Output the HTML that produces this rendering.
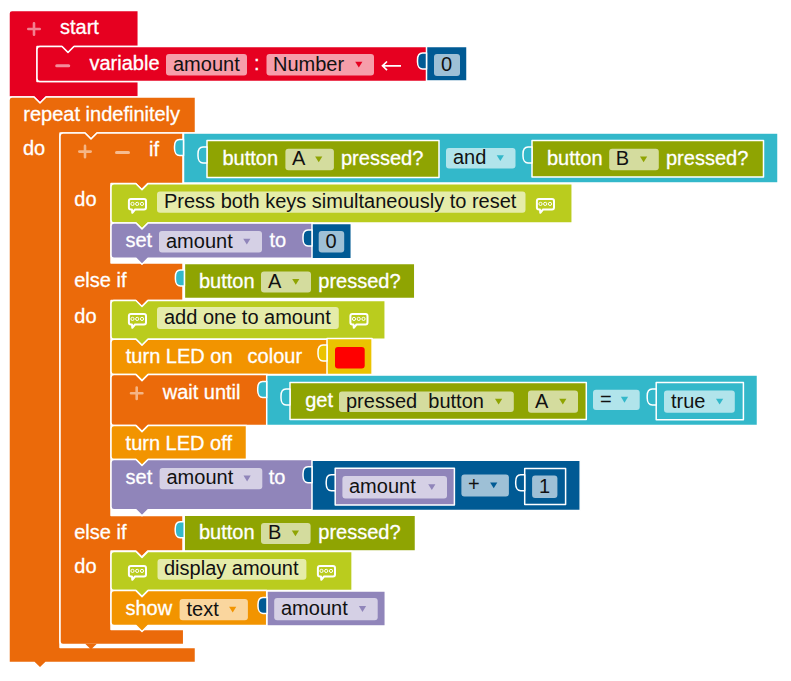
<!DOCTYPE html>
<html><head><meta charset="utf-8"><style>
html,body{margin:0;padding:0;background:#fff;width:791px;height:681px;overflow:hidden}
svg{display:block}
text{font-family:"Liberation Sans", sans-serif}
</style></head><body>
<svg width="791" height="681" viewBox="0 0 791 681">
<path d="M9,13.5 Q9,10.5 12,10.5 L138.3,10.5 L138.3,46.5 L74,46.5 L68,52.5 L62,46.5 L37,46.5 L37,81.5 L138.3,81.5 L138.3,97 L46,97 L40,103 L34,97 L9,97 Z" fill="#E60020" stroke="#fff" stroke-width="1.5" stroke-linejoin="round"/>
<path d="M28.3,29 L39.7,29 M34,23.3 L34,34.7" stroke="#fff" stroke-opacity="0.5" stroke-width="2.6" stroke-linecap="round"/>
<text x="60" y="34.2" fill="#fff" stroke="#fff" stroke-width="0.3" font-size="20" text-anchor="start" xml:space="preserve">start</text>
<path d="M37,49.5 Q37,46.5 40,46.5 L62,46.5 L68,52.5 L74,46.5 L427.5,46.5 L427.5,81.5 L427.5,81.5 L40,81.5 Q37,81.5 37,78.5 Z" fill="#E60020" stroke="#fff" stroke-width="1.5" stroke-linejoin="round"/>
<path d="M56.7,65.8 L68.7,65.8" stroke="#fff" stroke-opacity="0.55" stroke-width="3" stroke-linecap="round"/>
<text x="89.5" y="69.8" fill="#fff" stroke="#fff" stroke-width="0.3" font-size="20" text-anchor="start" xml:space="preserve">variable</text>
<rect x="166" y="54" width="81" height="21.5" rx="3" ry="3" fill="#fff" fill-opacity="0.62"/>
<text x="173" y="70.6" fill="#111" font-size="20" text-anchor="start" xml:space="preserve">amount</text>
<text x="254" y="69.8" fill="#fff" stroke="#fff" stroke-width="0.3" font-size="20" text-anchor="start" xml:space="preserve">:</text>
<rect x="266.5" y="54" width="107.5" height="21.5" rx="3" ry="3" fill="#fff" fill-opacity="0.62"/>
<text x="273" y="70.6" fill="#111" font-size="20" text-anchor="start" xml:space="preserve">Number</text>
<path d="M355.2,61.75 L362.40000000000003,61.75 L358.8,67.55 Z" fill="#E60020"/>
<path d="M382.5,65.8 L401,65.8 M387,61.5 L382.5,65.8 L387,70.1" stroke="#fff" stroke-width="1.7" fill="none"/>
<rect x="426.5" y="46.6" width="40.5" height="34.3" fill="#005A94" stroke="#fff" stroke-width="1.5" stroke-linejoin="round"/>
<path d="M426.5,53 L422.5,53 C419.0,53 417.5,56 417.5,60 L417.5,62 C417.5,66 419.5,69 422.5,69 L426.5,69 Z" fill="#005A94" stroke="#fff" stroke-width="1.5" stroke-linejoin="round"/>
<rect x="434" y="54" width="26" height="22" rx="3" ry="3" fill="#fff" fill-opacity="0.62"/>
<text x="441" y="70.85" fill="#111" font-size="20" text-anchor="start" xml:space="preserve">0</text>
<path d="M9,100 Q9,97 12,97 L34,97 L40,103 L46,97 L195.5,97 L195.5,133 L97,133 L91,139 L85,133 L60,133 L60,647.4 L195.5,647.4 L195.5,662.4 L46,662.4 L40,668 L34,662.4 L9,662.4 Z" fill="#EB6A0A" stroke="#fff" stroke-width="1.5" stroke-linejoin="round"/>
<text x="23.3" y="121.1" fill="#fff" stroke="#fff" stroke-width="0.3" font-size="20" text-anchor="start" xml:space="preserve">repeat indefinitely</text>
<text x="23" y="155.1" fill="#fff" stroke="#fff" stroke-width="0.3" font-size="20" text-anchor="start" xml:space="preserve">do</text>
<path d="M60,136 Q60,133 63,133 L85,133 L91,139 L97,133 L183,133 L183,183.5 L147.7,183.5 L141.7,189.5 L135.7,183.5 L111,183.5 L111,263 L183,263 L183,300.5 L147.7,300.5 L141.7,306.5 L135.7,300.5 L111,300.5 L111,515.5 L183,515.5 L183,551 L147.7,551 L141.7,557 L135.7,551 L111,551 L111,629.6 L183.7,629.6 L183.7,644.6 L63,644.6 Q60,644.6 60,641.6 Z" fill="#EB6A0A" stroke="#fff" stroke-width="1.5" stroke-linejoin="round"/>
<path d="M85.2,643.8 L96.8,643.8 L91,649.6 Z" fill="#EB6A0A"/>
<path d="M79.3,151.6 L90.7,151.6 M85,145.9 L85,157.29999999999998" stroke="#fff" stroke-opacity="0.5" stroke-width="2.6" stroke-linecap="round"/>
<path d="M116.5,152.5 L128.5,152.5" stroke="#fff" stroke-opacity="0.55" stroke-width="3" stroke-linecap="round"/>
<text x="149" y="155.7" fill="#fff" stroke="#fff" stroke-width="0.3" font-size="20" text-anchor="start" xml:space="preserve">if</text>
<text x="74.3" y="206.3" fill="#fff" stroke="#fff" stroke-width="0.3" font-size="20" text-anchor="start" xml:space="preserve">do</text>
<text x="74.2" y="286.9" fill="#fff" stroke="#fff" stroke-width="0.3" font-size="20" text-anchor="start" xml:space="preserve">else if</text>
<text x="74.3" y="322.5" fill="#fff" stroke="#fff" stroke-width="0.3" font-size="20" text-anchor="start" xml:space="preserve">do</text>
<text x="74.2" y="538.5" fill="#fff" stroke="#fff" stroke-width="0.3" font-size="20" text-anchor="start" xml:space="preserve">else if</text>
<text x="74.3" y="572.5" fill="#fff" stroke="#fff" stroke-width="0.3" font-size="20" text-anchor="start" xml:space="preserve">do</text>
<rect x="183.5" y="133.1" width="594.5" height="49.8" fill="#33B8CA" stroke="#fff" stroke-width="1.5" stroke-linejoin="round"/>
<path d="M183.5,139.5 L179.5,139.5 C176.0,139.5 174.5,142.5 174.5,146.5 L174.5,148.5 C174.5,152.5 176.5,155.5 179.5,155.5 L183.5,155.5 Z" fill="#33B8CA" stroke="#fff" stroke-width="1.5" stroke-linejoin="round"/>
<rect x="207" y="140.6" width="232.0" height="36.8" fill="#8FA402" stroke="#fff" stroke-width="1.5" stroke-linejoin="round"/>
<path d="M207,147 L203,147 C199.5,147 198,150 198,154 L198,156 C198,160 200,163 203,163 L207,163 Z" fill="#33B8CA" stroke="#fff" stroke-width="1.5" stroke-linejoin="round"/>
<text x="222.5" y="164.5" fill="#fff" stroke="#fff" stroke-width="0.3" font-size="20" text-anchor="start" xml:space="preserve">button</text>
<rect x="285.4" y="148.7" width="48.5" height="21.5" rx="3" ry="3" fill="#fff" fill-opacity="0.62"/>
<text x="292" y="165.29999999999998" fill="#111" font-size="20" text-anchor="start" xml:space="preserve">A</text>
<path d="M315.09999999999997,156.45 L322.3,156.45 L318.7,162.25 Z" fill="#8FA402"/>
<text x="341" y="164.5" fill="#fff" stroke="#fff" stroke-width="0.3" font-size="20" text-anchor="start" xml:space="preserve">pressed?</text>
<rect x="446" y="148" width="69.5" height="20.5" rx="3" ry="3" fill="#fff" fill-opacity="0.62"/>
<text x="453" y="164.1" fill="#111" font-size="20" text-anchor="start" xml:space="preserve">and</text>
<path d="M496.7,155.25 L503.90000000000003,155.25 L500.3,161.05 Z" fill="#33B8CA"/>
<rect x="532" y="140.6" width="231.5" height="36.3" fill="#8FA402" stroke="#fff" stroke-width="1.5" stroke-linejoin="round"/>
<path d="M532,147 L528,147 C524.5,147 523,150 523,154 L523,156 C523,160 525,163 528,163 L532,163 Z" fill="#33B8CA" stroke="#fff" stroke-width="1.5" stroke-linejoin="round"/>
<text x="547" y="164.5" fill="#fff" stroke="#fff" stroke-width="0.3" font-size="20" text-anchor="start" xml:space="preserve">button</text>
<rect x="609.2" y="148.7" width="49.59999999999991" height="21.5" rx="3" ry="3" fill="#fff" fill-opacity="0.62"/>
<text x="615.8" y="165.29999999999998" fill="#111" font-size="20" text-anchor="start" xml:space="preserve">B</text>
<path d="M639.9999999999999,156.45 L647.1999999999999,156.45 L643.5999999999999,162.25 Z" fill="#8FA402"/>
<text x="666" y="164.5" fill="#fff" stroke="#fff" stroke-width="0.3" font-size="20" text-anchor="start" xml:space="preserve">pressed?</text>
<path d="M111,186.7 Q111,183.7 114,183.7 L136,183.7 L142,189.7 L148,183.7 L572.2,183.7 L572.2,223.0 L148,223.0 L142,229.0 L136,223.0 L114,223.0 Q111,223.0 111,220.0 Z" fill="#BACC1E" stroke="#fff" stroke-width="1.5" stroke-linejoin="round"/>
<path d="M130.9,198.9 L144,198.9 Q146,198.9 146,200.9 L146,207.5 Q146,209.5 144,209.5 L135,209.5 L132.3,212.8 L132,209.5 L130.9,209.5 Q128.9,209.5 128.9,207.5 L128.9,200.9 Q128.9,198.9 130.9,198.9 Z" fill="none" stroke="#fff" stroke-width="2" stroke-linejoin="round"/>
<circle cx="132.5" cy="203.9" r="1.6" fill="none" stroke="#fff" stroke-width="1"/>
<circle cx="137.2" cy="203.9" r="1.6" fill="none" stroke="#fff" stroke-width="1"/>
<circle cx="142" cy="203.9" r="1.6" fill="none" stroke="#fff" stroke-width="1"/>
<rect x="157" y="191.5" width="368.5" height="21.19999999999999" rx="3" ry="3" fill="#fff" fill-opacity="0.62"/>
<text x="164" y="207.95" fill="#111" font-size="20" text-anchor="start" xml:space="preserve">Press both keys simultaneously to reset</text>
<path d="M538.9,198.9 L552,198.9 Q554,198.9 554,200.9 L554,207.5 Q554,209.5 552,209.5 L543,209.5 L540.3,212.8 L540,209.5 L538.9,209.5 Q536.9,209.5 536.9,207.5 L536.9,200.9 Q536.9,198.9 538.9,198.9 Z" fill="none" stroke="#fff" stroke-width="2" stroke-linejoin="round"/>
<circle cx="540.5" cy="203.9" r="1.6" fill="none" stroke="#fff" stroke-width="1"/>
<circle cx="545.2" cy="203.9" r="1.6" fill="none" stroke="#fff" stroke-width="1"/>
<circle cx="550" cy="203.9" r="1.6" fill="none" stroke="#fff" stroke-width="1"/>
<path d="M111,226 Q111,223 114,223 L136,223 L142,229 L148,223 L313.0,223 L313.0,258.3 L148,258.3 L142,264.3 L136,258.3 L114,258.3 Q111,258.3 111,255.3 Z" fill="#9085BA" stroke="#fff" stroke-width="1.5" stroke-linejoin="round"/>
<text x="125.5" y="247.0" fill="#fff" stroke="#fff" stroke-width="0.3" font-size="20" text-anchor="start" xml:space="preserve">set</text>
<rect x="159" y="231" width="103" height="21.5" rx="3" ry="3" fill="#fff" fill-opacity="0.62"/>
<text x="166" y="247.6" fill="#111" font-size="20" text-anchor="start" xml:space="preserve">amount</text>
<path d="M243.20000000000002,238.75 L250.4,238.75 L246.8,244.55 Z" fill="#9085BA"/>
<text x="269.5" y="247.0" fill="#fff" stroke="#fff" stroke-width="0.3" font-size="20" text-anchor="start" xml:space="preserve">to</text>
<rect x="312" y="223.6" width="39.30000000000001" height="35.10000000000001" fill="#005A94" stroke="#fff" stroke-width="1.5" stroke-linejoin="round"/>
<path d="M312,230 L308,230 C304.5,230 303,233 303,237 L303,239 C303,243 305,246 308,246 L312,246 Z" fill="#005A94" stroke="#fff" stroke-width="1.5" stroke-linejoin="round"/>
<rect x="318.7" y="231" width="25.5" height="21.5" rx="3" ry="3" fill="#fff" fill-opacity="0.62"/>
<text x="325.5" y="247.6" fill="#111" font-size="20" text-anchor="start" xml:space="preserve">0</text>
<rect x="184.4" y="263.6" width="230.4" height="34.999999999999986" fill="#8FA402" stroke="#fff" stroke-width="1.5" stroke-linejoin="round"/>
<path d="M184.4,270 L180.4,270 C176.9,270 175.4,273 175.4,277 L175.4,279 C175.4,283 177.4,286 180.4,286 L184.4,286 Z" fill="#33B8CA" stroke="#fff" stroke-width="1.5" stroke-linejoin="round"/>
<text x="199" y="287.5" fill="#fff" stroke="#fff" stroke-width="0.3" font-size="20" text-anchor="start" xml:space="preserve">button</text>
<rect x="261" y="271.5" width="50" height="21.100000000000023" rx="3" ry="3" fill="#fff" fill-opacity="0.62"/>
<text x="268" y="287.90000000000003" fill="#111" font-size="20" text-anchor="start" xml:space="preserve">A</text>
<path d="M292.2,279.05 L299.40000000000003,279.05 L295.8,284.85 Z" fill="#8FA402"/>
<text x="318.3" y="287.5" fill="#fff" stroke="#fff" stroke-width="0.3" font-size="20" text-anchor="start" xml:space="preserve">pressed?</text>
<path d="M111,303.5 Q111,300.5 114,300.5 L136,300.5 L142,306.5 L148,300.5 L385.2,300.5 L385.2,339.2 L148,339.2 L142,345.2 L136,339.2 L114,339.2 Q111,339.2 111,336.2 Z" fill="#BACC1E" stroke="#fff" stroke-width="1.5" stroke-linejoin="round"/>
<path d="M130.9,313.9 L144,313.9 Q146,313.9 146,315.9 L146,322.5 Q146,324.5 144,324.5 L135,324.5 L132.3,327.8 L132,324.5 L130.9,324.5 Q128.9,324.5 128.9,322.5 L128.9,315.9 Q128.9,313.9 130.9,313.9 Z" fill="none" stroke="#fff" stroke-width="2" stroke-linejoin="round"/>
<circle cx="132.5" cy="318.9" r="1.6" fill="none" stroke="#fff" stroke-width="1"/>
<circle cx="137.2" cy="318.9" r="1.6" fill="none" stroke="#fff" stroke-width="1"/>
<circle cx="142" cy="318.9" r="1.6" fill="none" stroke="#fff" stroke-width="1"/>
<rect x="157" y="307" width="181.8" height="22" rx="3" ry="3" fill="#fff" fill-opacity="0.62"/>
<text x="164" y="323.85" fill="#111" font-size="20" text-anchor="start" xml:space="preserve">add one to amount</text>
<path d="M352.4,313.9 L365.5,313.9 Q367.5,313.9 367.5,315.9 L367.5,322.5 Q367.5,324.5 365.5,324.5 L356.5,324.5 L353.8,327.8 L353.5,324.5 L352.4,324.5 Q350.4,324.5 350.4,322.5 L350.4,315.9 Q350.4,313.9 352.4,313.9 Z" fill="none" stroke="#fff" stroke-width="2" stroke-linejoin="round"/>
<circle cx="354.0" cy="318.9" r="1.6" fill="none" stroke="#fff" stroke-width="1"/>
<circle cx="358.7" cy="318.9" r="1.6" fill="none" stroke="#fff" stroke-width="1"/>
<circle cx="363.5" cy="318.9" r="1.6" fill="none" stroke="#fff" stroke-width="1"/>
<path d="M111,342.2 Q111,339.2 114,339.2 L136,339.2 L142,345.2 L148,339.2 L328.0,339.2 L328.0,374.59999999999997 L148,374.59999999999997 L142,380.59999999999997 L136,374.59999999999997 L114,374.59999999999997 Q111,374.59999999999997 111,371.59999999999997 Z" fill="#F29400" stroke="#fff" stroke-width="1.5" stroke-linejoin="round"/>
<text x="125.8" y="363.0" fill="#fff" stroke="#fff" stroke-width="0.3" font-size="20" text-anchor="start" xml:space="preserve">turn LED on</text>
<text x="247.6" y="363.0" fill="#fff" stroke="#fff" stroke-width="0.3" font-size="20" text-anchor="start" xml:space="preserve">colour</text>
<rect x="327" y="338.6" width="45.10000000000002" height="35.8" fill="#EBC300" stroke="#fff" stroke-width="1.5" stroke-linejoin="round"/>
<path d="M327,345 L323,345 C319.5,345 318,348 318,352 L318,354 C318,358 320,361 323,361 L327,361 Z" fill="#EBC300" stroke="#fff" stroke-width="1.5" stroke-linejoin="round"/>
<rect x="335" y="347" width="29.7" height="21.4" rx="3" fill="#FF0000"/>
<path d="M111,377.6 Q111,374.6 114,374.6 L136,374.6 L142,380.6 L148,374.6 L267.5,374.6 L267.5,425.6 L148,425.6 L142,431.6 L136,425.6 L114,425.6 Q111,425.6 111,422.6 Z" fill="#EB6A0A" stroke="#fff" stroke-width="1.5" stroke-linejoin="round"/>
<path d="M131.0,393.3 L142.39999999999998,393.3 M136.7,387.6 L136.7,399.0" stroke="#fff" stroke-opacity="0.5" stroke-width="2.6" stroke-linecap="round"/>
<text x="162.7" y="398.5" fill="#fff" stroke="#fff" stroke-width="0.3" font-size="20" text-anchor="start" xml:space="preserve">wait until</text>
<rect x="266.7" y="375.1" width="490.8" height="50.3" fill="#33B8CA" stroke="#fff" stroke-width="1.5" stroke-linejoin="round"/>
<path d="M266.7,381.5 L262.7,381.5 C259.2,381.5 257.7,384.5 257.7,388.5 L257.7,390.5 C257.7,394.5 259.7,397.5 262.7,397.5 L266.7,397.5 Z" fill="#33B8CA" stroke="#fff" stroke-width="1.5" stroke-linejoin="round"/>
<rect x="290" y="382.6" width="296.29999999999995" height="36.999999999999986" fill="#8FA402" stroke="#fff" stroke-width="1.5" stroke-linejoin="round"/>
<path d="M290,389 L286,389 C282.5,389 281,392 281,396 L281,398 C281,402 283,405 286,405 L290,405 Z" fill="#33B8CA" stroke="#fff" stroke-width="1.5" stroke-linejoin="round"/>
<text x="305.2" y="407.0" fill="#fff" stroke="#fff" stroke-width="0.3" font-size="20" text-anchor="start" xml:space="preserve">get</text>
<rect x="339" y="391.4" width="174.79999999999995" height="20.600000000000023" rx="3" ry="3" fill="#fff" fill-opacity="0.62"/>
<text x="346" y="407.55" fill="#111" font-size="20" text-anchor="start" xml:space="preserve">pressed  button</text>
<path d="M494.99999999999994,398.7 L502.2,398.7 L498.59999999999997,404.5 Z" fill="#8FA402"/>
<rect x="528" y="390.6" width="50" height="22.099999999999966" rx="3" ry="3" fill="#fff" fill-opacity="0.62"/>
<text x="535" y="407.5" fill="#111" font-size="20" text-anchor="start" xml:space="preserve">A</text>
<path d="M559.1999999999999,398.65 L566.4,398.65 L562.8,404.45 Z" fill="#8FA402"/>
<rect x="593" y="389.7" width="46.700000000000045" height="20.30000000000001" rx="3" ry="3" fill="#fff" fill-opacity="0.62"/>
<text x="600" y="405.70000000000005" fill="#111" font-size="20" text-anchor="start" xml:space="preserve">=</text>
<path d="M620.9,396.85 L628.1,396.85 L624.5,402.65000000000003 Z" fill="#33B8CA"/>
<rect x="656.2" y="382.6" width="87.19999999999993" height="37.199999999999974" fill="#33B8CA" stroke="#fff" stroke-width="1.5" stroke-linejoin="round"/>
<path d="M656.2,389 L652.2,389 C648.7,389 647.2,392 647.2,396 L647.2,398 C647.2,402 649.2,405 652.2,405 L656.2,405 Z" fill="#33B8CA" stroke="#fff" stroke-width="1.5" stroke-linejoin="round"/>
<rect x="664" y="390.6" width="70.79999999999995" height="22.099999999999966" rx="3" ry="3" fill="#fff" fill-opacity="0.62"/>
<text x="671" y="407.5" fill="#111" font-size="20" text-anchor="start" xml:space="preserve">true</text>
<path d="M715.9999999999999,398.65 L723.1999999999999,398.65 L719.5999999999999,404.45 Z" fill="#33B8CA"/>
<path d="M111,428.6 Q111,425.6 114,425.6 L136,425.6 L142,431.6 L148,425.6 L246.5,425.6 L246.5,459.5 L148,459.5 L142,465.5 L136,459.5 L114,459.5 Q111,459.5 111,456.5 Z" fill="#F29400" stroke="#fff" stroke-width="1.5" stroke-linejoin="round"/>
<text x="125.6" y="449.5" fill="#fff" stroke="#fff" stroke-width="0.3" font-size="20" text-anchor="start" xml:space="preserve">turn LED off</text>
<path d="M111,462.5 Q111,459.5 114,459.5 L136,459.5 L142,465.5 L148,459.5 L312.6,459.5 L312.6,509.8 L148,509.8 L142,515.8 L136,509.8 L114,509.8 Q111,509.8 111,506.8 Z" fill="#9085BA" stroke="#fff" stroke-width="1.5" stroke-linejoin="round"/>
<text x="125.6" y="484.0" fill="#fff" stroke="#fff" stroke-width="0.3" font-size="20" text-anchor="start" xml:space="preserve">set</text>
<rect x="159.6" y="468" width="102.70000000000002" height="21.19999999999999" rx="3" ry="3" fill="#fff" fill-opacity="0.62"/>
<text x="166.5" y="484.45000000000005" fill="#111" font-size="20" text-anchor="start" xml:space="preserve">amount</text>
<path d="M243.50000000000003,475.6 L250.70000000000002,475.6 L247.10000000000002,481.40000000000003 Z" fill="#9085BA"/>
<text x="268.7" y="484.0" fill="#fff" stroke="#fff" stroke-width="0.3" font-size="20" text-anchor="start" xml:space="preserve">to</text>
<rect x="312" y="460.3" width="268.20000000000005" height="50.3" fill="#005A94" stroke="#fff" stroke-width="1.5" stroke-linejoin="round"/>
<path d="M312,466.7 L308,466.7 C304.5,466.7 303,469.7 303,473.7 L303,475.7 C303,479.7 305,482.7 308,482.7 L312,482.7 Z" fill="#005A94" stroke="#fff" stroke-width="1.5" stroke-linejoin="round"/>
<rect x="335.2" y="468.3" width="119.19999999999999" height="36.8" fill="#9085BA" stroke="#fff" stroke-width="1.5" stroke-linejoin="round"/>
<path d="M335.2,474.7 L331.2,474.7 C327.7,474.7 326.2,477.7 326.2,481.7 L326.2,483.7 C326.2,487.7 328.2,490.7 331.2,490.7 L335.2,490.7 Z" fill="#005A94" stroke="#fff" stroke-width="1.5" stroke-linejoin="round"/>
<rect x="342.4" y="476" width="104.60000000000002" height="22.600000000000023" rx="3" ry="3" fill="#fff" fill-opacity="0.62"/>
<text x="349" y="493.15000000000003" fill="#111" font-size="20" text-anchor="start" xml:space="preserve">amount</text>
<path d="M428.2,484.3 L435.40000000000003,484.3 L431.8,490.1 Z" fill="#9085BA"/>
<rect x="461.4" y="474.6" width="47.5" height="21.899999999999977" rx="3" ry="3" fill="#fff" fill-opacity="0.62"/>
<text x="468" y="491.40000000000003" fill="#111" font-size="20" text-anchor="start" xml:space="preserve">+</text>
<path d="M490.09999999999997,482.55 L497.3,482.55 L493.7,488.35 Z" fill="#005A94"/>
<rect x="524.7" y="468.40000000000003" width="40.89999999999998" height="35.999999999999986" fill="#005A94" stroke="#fff" stroke-width="1.5" stroke-linejoin="round"/>
<path d="M524.7,474.8 L520.7,474.8 C517.2,474.8 515.7,477.8 515.7,481.8 L515.7,483.8 C515.7,487.8 517.7,490.8 520.7,490.8 L524.7,490.8 Z" fill="#005A94" stroke="#fff" stroke-width="1.5" stroke-linejoin="round"/>
<rect x="532.1" y="475.6" width="25.299999999999955" height="22.299999999999955" rx="3" ry="3" fill="#fff" fill-opacity="0.62"/>
<text x="539" y="492.6" fill="#111" font-size="20" text-anchor="start" xml:space="preserve">1</text>
<rect x="184.2" y="515.3000000000001" width="231.3" height="35.59999999999995" fill="#8FA402" stroke="#fff" stroke-width="1.5" stroke-linejoin="round"/>
<path d="M184.2,521.7 L180.2,521.7 C176.7,521.7 175.2,524.7 175.2,528.7 L175.2,530.7 C175.2,534.7 177.2,537.7 180.2,537.7 L184.2,537.7 Z" fill="#33B8CA" stroke="#fff" stroke-width="1.5" stroke-linejoin="round"/>
<text x="199" y="539.0" fill="#fff" stroke="#fff" stroke-width="0.3" font-size="20" text-anchor="start" xml:space="preserve">button</text>
<rect x="261" y="523" width="49.60000000000002" height="21" rx="3" ry="3" fill="#fff" fill-opacity="0.62"/>
<text x="268" y="539.35" fill="#111" font-size="20" text-anchor="start" xml:space="preserve">B</text>
<path d="M291.8,530.5 L299.00000000000006,530.5 L295.40000000000003,536.3 Z" fill="#8FA402"/>
<text x="318.3" y="539.0" fill="#fff" stroke="#fff" stroke-width="0.3" font-size="20" text-anchor="start" xml:space="preserve">pressed?</text>
<path d="M111,554.4 Q111,551.4 114,551.4 L136,551.4 L142,557.4 L148,551.4 L352.1,551.4 L352.1,590.6 L148,590.6 L142,596.6 L136,590.6 L114,590.6 Q111,590.6 111,587.6 Z" fill="#BACC1E" stroke="#fff" stroke-width="1.5" stroke-linejoin="round"/>
<path d="M130.9,565.9 L144,565.9 Q146,565.9 146,567.9 L146,574.5 Q146,576.5 144,576.5 L135,576.5 L132.3,579.8 L132,576.5 L130.9,576.5 Q128.9,576.5 128.9,574.5 L128.9,567.9 Q128.9,565.9 130.9,565.9 Z" fill="none" stroke="#fff" stroke-width="2" stroke-linejoin="round"/>
<circle cx="132.5" cy="570.9" r="1.6" fill="none" stroke="#fff" stroke-width="1"/>
<circle cx="137.2" cy="570.9" r="1.6" fill="none" stroke="#fff" stroke-width="1"/>
<circle cx="142" cy="570.9" r="1.6" fill="none" stroke="#fff" stroke-width="1"/>
<rect x="157.5" y="559" width="148.89999999999998" height="20.799999999999955" rx="3" ry="3" fill="#fff" fill-opacity="0.62"/>
<text x="164" y="575.25" fill="#111" font-size="20" text-anchor="start" xml:space="preserve">display amount</text>
<path d="M319.9,565.9 L333,565.9 Q335,565.9 335,567.9 L335,574.5 Q335,576.5 333,576.5 L324,576.5 L321.3,579.8 L321,576.5 L319.9,576.5 Q317.9,576.5 317.9,574.5 L317.9,567.9 Q317.9,565.9 319.9,565.9 Z" fill="none" stroke="#fff" stroke-width="2" stroke-linejoin="round"/>
<circle cx="321.5" cy="570.9" r="1.6" fill="none" stroke="#fff" stroke-width="1"/>
<circle cx="326.2" cy="570.9" r="1.6" fill="none" stroke="#fff" stroke-width="1"/>
<circle cx="331" cy="570.9" r="1.6" fill="none" stroke="#fff" stroke-width="1"/>
<path d="M111,593.6 Q111,590.6 114,590.6 L136,590.6 L142,596.6 L148,590.6 L266.7,590.6 L266.7,625.5 L148,625.5 L142,631.5 L136,625.5 L114,625.5 Q111,625.5 111,622.5 Z" fill="#F29400" stroke="#fff" stroke-width="1.5" stroke-linejoin="round"/>
<text x="125.5" y="615.0" fill="#fff" stroke="#fff" stroke-width="0.3" font-size="20" text-anchor="start" xml:space="preserve">show</text>
<rect x="179.6" y="599" width="68.30000000000001" height="21.299999999999955" rx="3" ry="3" fill="#fff" fill-opacity="0.62"/>
<text x="186.5" y="615.5" fill="#111" font-size="20" text-anchor="start" xml:space="preserve">text</text>
<path d="M229.10000000000002,606.65 L236.3,606.65 L232.70000000000002,612.4499999999999 Z" fill="#F29400"/>
<rect x="267" y="591.0" width="118.30000000000001" height="34.90000000000002" fill="#9085BA" stroke="#fff" stroke-width="1.5" stroke-linejoin="round"/>
<path d="M267,597.4 L263,597.4 C259.5,597.4 258,600.4 258,604.4 L258,606.4 C258,610.4 260,613.4 263,613.4 L267,613.4 Z" fill="#005A94" stroke="#fff" stroke-width="1.5" stroke-linejoin="round"/>
<rect x="274.2" y="598" width="103.5" height="22.200000000000045" rx="3" ry="3" fill="#fff" fill-opacity="0.62"/>
<text x="281" y="614.95" fill="#111" font-size="20" text-anchor="start" xml:space="preserve">amount</text>
<path d="M358.9,606.1 L366.1,606.1 L362.5,611.9 Z" fill="#9085BA"/>
</svg></body></html>
